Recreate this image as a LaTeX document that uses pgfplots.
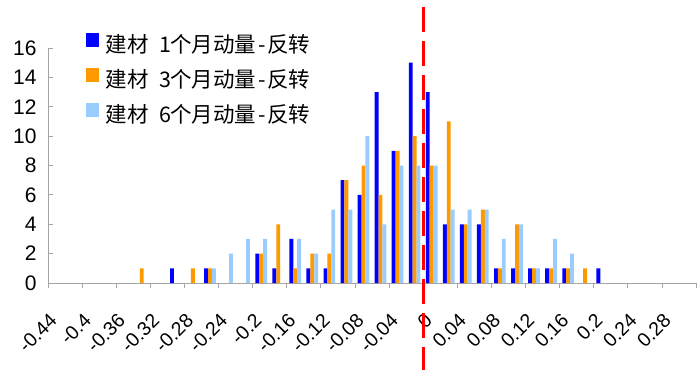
\documentclass[border=0pt]{standalone}
\usepackage{pgfplots}
\pgfplotsset{compat=1.18}
\usepackage{fontspec}
\setmainfont{Liberation Sans}
\newfontfamily\cjk{Noto Sans CJK SC}
\definecolor{s1}{RGB}{0,0,255}
\definecolor{s2}{RGB}{255,153,0}
\definecolor{s3}{RGB}{153,204,255}
\definecolor{axgray}{RGB}{165,165,165}
\newcommand{\hw}[1]{\makebox[0.5em]{#1}}
\pgfplotsset{sqleg/.style={legend image code/.code={\fill[##1] (0bp,0.5bp) rectangle (13bp,13.5bp);}}}
\begin{document}
\begin{tikzpicture}
\path[use as bounding box] (-48bp,-92bp) rectangle (651bp,283bp);
\begin{axis}[
  scale only axis, width=648bp, height=235bp,
  at={(0,0)}, anchor=south west,
  xmin=-0.5, xmax=37.5, ymin=0, ymax=16,
  clip=false,
  axis x line=bottom, axis y line=left,
  axis line style={draw=axgray, line width=0.8bp, -},
  tick style={draw=axgray, line width=0.8bp},
  tick align=inside,
  ybar, bar width=3.9bp,
  xtick={-0.5,1.5,...,37.5}, xticklabels={},
  major tick length=5bp,
  extra x ticks={0,2,...,36},
  extra x tick labels={-0.44,-0.4,-0.36,-0.32,-0.28,-0.24,-0.2,-0.16,-0.12,-0.08,-0.04,0,0.04,0.08,0.12,0.16,0.2,0.24,0.28},
  extra x tick style={major tick length=0pt},
  xticklabel style={xshift=-3bp, yshift=-34bp, rotate=45, anchor=east, inner sep=0pt, font=\fontsize{19.5bp}{22bp}\selectfont},
  ytick={0,2,...,16},
  yticklabel style={font=\fontsize{21bp}{24bp}\selectfont, /pgf/number format/assume math mode=true, xshift=-8bp},
  legend style={draw=none, fill=none, at={(0.0586,1.0617)}, anchor=north west, inner sep=0pt, outer sep=0pt,
    font=\cjk\fontsize{21.5bp}{24bp}\selectfont,
    nodes={inner sep=0pt, text height=16bp, text depth=5bp},
    row sep=11bp,
    /tikz/every odd column/.append style={column sep=7bp}},
  legend cell align=left,
]
\addplot[fill=s1, draw=none, bar shift=-3.9bp, sqleg] coordinates {(7,1)(9,1)(12,2)(13,1)(14,3)(15,1)(16,1)(17,7)(18,6)(19,13)(20,9)(21,15)(22,13)(23,4)(24,4)(25,4)(26,1)(27,1)(28,1)(29,1)(30,1)(32,1)};
\addlegendentry{建材\hw{ }\hw{1}个月动量\hw{-}反转}
\addplot[fill=s2, draw=none, bar shift=0bp, sqleg] coordinates {(5,1)(8,1)(9,1)(12,2)(13,4)(14,1)(15,2)(16,2)(17,7)(18,8)(19,6)(20,9)(21,10)(22,8)(23,11)(24,4)(25,5)(26,1)(27,4)(28,1)(29,1)(30,1)(31,1)};
\addlegendentry{建材\hw{ }\hw{3}个月动量\hw{-}反转}
\addplot[fill=s3, draw=none, bar shift=3.9bp, sqleg] coordinates {(9,1)(10,2)(11,3)(12,3)(14,3)(15,2)(16,5)(17,5)(18,10)(19,4)(20,8)(21,8)(22,8)(23,5)(24,5)(25,5)(26,3)(27,4)(28,1)(29,3)(30,2)};
\addlegendentry{建材\hw{ }\hw{6}个月动量\hw{-}反转}
\addplot[sharp plot, red, line width=3bp, dash pattern=on 25bp off 9bp, forget plot] coordinates {(21.5,18.8) (21.5,-5.9)};
\end{axis}
\end{tikzpicture}
\end{document}
